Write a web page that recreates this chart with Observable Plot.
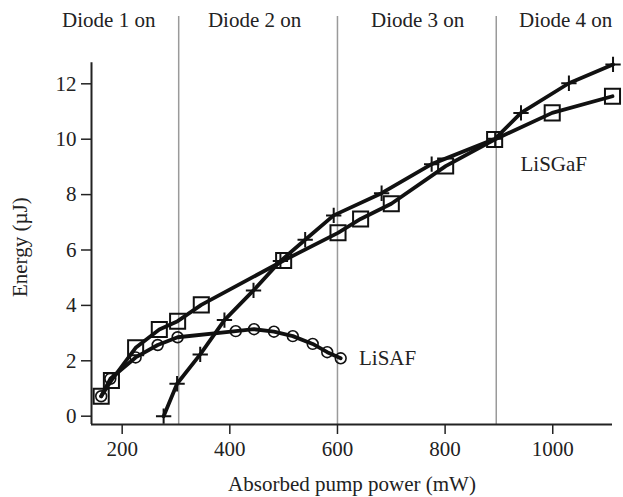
<!DOCTYPE html>
<html>
<head>
<meta charset="utf-8">
<script src="https://cdn.jsdelivr.net/npm/d3@7"></script>
<script src="https://cdn.jsdelivr.net/npm/@observablehq/plot@0.6"></script>
<style>
  html, body { margin: 0; padding: 0; background: #fff; }
</style>
</head>
<body>
<div id="chart"></div>
<script>
// ---- data ----
const squarePower  = [161, 180, 225, 269, 303, 347, 500, 601, 643, 700, 801, 892, 999, 1111];
const squareEnergy = [0.72, 1.29, 2.47, 3.13, 3.43, 4.02, 5.62, 6.62, 7.12, 7.67, 9.03, 9.99, 10.95, 11.55];

const plusPower  = [277, 302, 345, 390, 444, 494, 540, 593, 682, 775, 893, 941, 1030, 1112];
const plusEnergy = [0.0, 1.17, 2.23, 3.47, 4.54, 5.6, 6.37, 7.25, 8.05, 9.1, 10.02, 10.95, 12.02, 12.7];

const circlePower  = [161, 178, 225, 266, 303, 411, 445, 482, 517, 554, 581, 606];
const circleEnergy = [0.72, 1.35, 2.12, 2.57, 2.85, 3.07, 3.14, 3.05, 2.89, 2.61, 2.31, 2.09];

const diodeBounds = [305, 600, 895];
const diodeLabels = ["Diode 1 on", "Diode 2 on", "Diode 3 on", "Diode 4 on"];
const diodeLabelPower = [175, 446, 749, 1024];

const xTicks = [200, 400, 600, 800, 1000];
const yTicks = [0, 2, 4, 6, 8, 10, 12];
const xDomain = [143, 1111];
const yDomain = [-0.3, 14.43];
const yAxisTop = 12.76;

const seriesLabels = [
  {text: "LiSAF", power: 640, energy: 2.1},
  {text: "LiSGaF", power: 940, energy: 9.1}
];
const xTitle = "Absorbed pump power (mW)";
const yTitle = "Energy (\u00b5J)";
const yTitleEnergy = 6.1;

// ---- build tables ----
const toRows = (xs, ys) => xs.map((x, i) => ({power: x, energy: ys[i]}));
const squares = toRows(squarePower, squareEnergy);
const pluses = toRows(plusPower, plusEnergy);
const circles = toRows(circlePower, circleEnergy);

const ink = "#111";

const chart = Plot.plot({
  width: 623,
  height: 497,
  marginLeft: 91,
  marginRight: 11,
  marginTop: 16,
  marginBottom: 73,
  x: {domain: xDomain},
  y: {domain: yDomain},
  style: {
    fontFamily: "'Liberation Serif', 'Times New Roman', serif",
    fontSize: "21px",
    color: "#222",
    background: "#fff",
    overflow: "visible"
  },
  marks: [
    Plot.ruleX(diodeBounds, {stroke: "#9a9a9a", strokeWidth: 1.5}),
    Plot.ruleY([yDomain[0]], {stroke: "#222", strokeWidth: 2}),
    Plot.ruleX([xDomain[0]], {y1: yDomain[0], y2: yAxisTop, stroke: "#222", strokeWidth: 2}),
    Plot.axisX({ticks: xTicks, tickFormat: d => String(d), tickSize: 10, tickPadding: 7, label: null, strokeWidth: 1.5}),
    Plot.axisY({ticks: yTicks, tickFormat: d => String(d), tickSize: 10, tickPadding: 5, label: null, strokeWidth: 1.5}),

    Plot.line(circles, {x: "power", y: "energy", stroke: ink, strokeWidth: 3.8}),
    Plot.line(squares, {x: "power", y: "energy", stroke: ink, strokeWidth: 3.8}),
    Plot.line(pluses, {x: "power", y: "energy", stroke: ink, strokeWidth: 3.8}),

    Plot.dot(circles, {x: "power", y: "energy", symbol: "circle", r: 5.4, fill: "none", stroke: ink, strokeWidth: 1.6}),
    Plot.dot(squares, {x: "power", y: "energy", symbol: "square", r: 8.5, fill: "none", stroke: ink, strokeWidth: 2}),
    Plot.dot(pluses, {x: "power", y: "energy", symbol: "plus", r: 5, fill: "none", stroke: ink, strokeWidth: 2}),

    Plot.text(seriesLabels, {x: "power", y: "energy", text: "text", textAnchor: "start", fill: "#222"}),
    Plot.text(diodeLabels, {x: diodeLabelPower, text: d => d, frameAnchor: "top", lineAnchor: "middle", dy: 4, fill: "#222"}),
    Plot.text([xTitle], {text: d => d, frameAnchor: "bottom", lineAnchor: "middle", dy: 60, fill: "#222"}),
    Plot.text([yTitle], {x: xDomain[0], y: yTitleEnergy, text: d => d, dx: -71, rotate: -90, fill: "#222"})
  ]
});

document.getElementById("chart").appendChild(chart);
</script>
</body>
</html>
